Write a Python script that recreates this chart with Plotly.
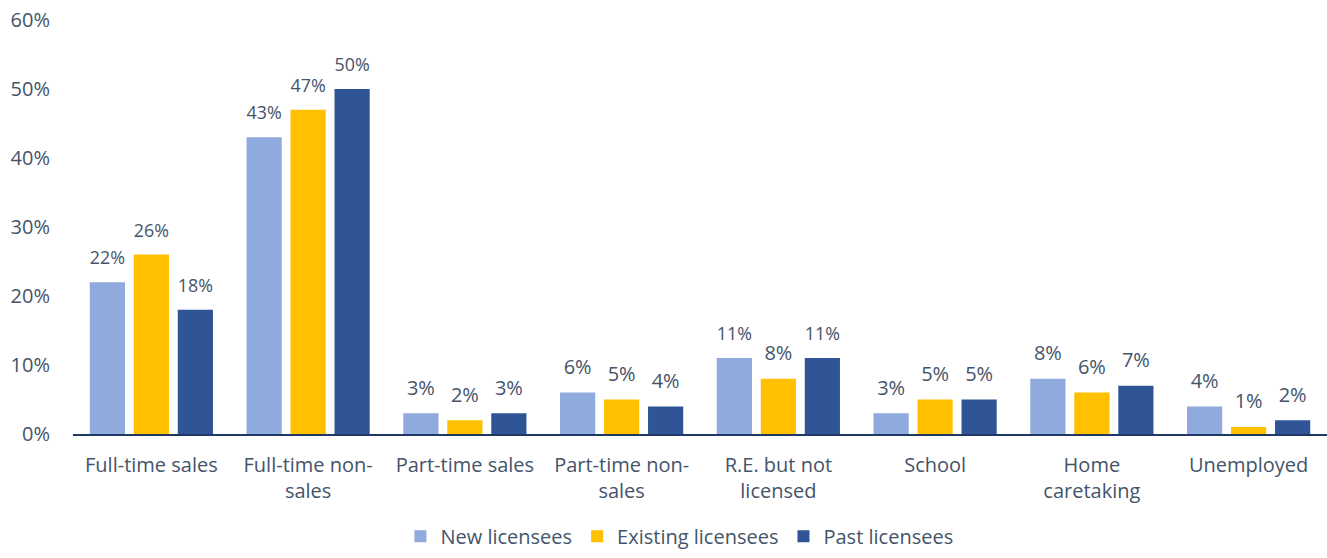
import plotly.graph_objects as go

categories = ["Full-time sales", "Full-time non-<br>sales", "Part-time sales", "Part-time non-<br>sales",
              "R.E. but not<br>licensed", "School", "Home<br>caretaking", "Unemployed"]
new_lic = [22, 43, 3, 6, 11, 3, 8, 4]
existing_lic = [26, 47, 2, 5, 8, 5, 6, 1]
past_lic = [18, 50, 3, 4, 11, 5, 7, 2]
series_names = ["New licensees", "Existing licensees", "Past licensees"]
colors = ["#8FAADC", "#FFC000", "#2F5597"]
y_ticks = [0, 10, 20, 30, 40, 50, 60]

FONT = "Open Sans"
FS = 20
TXT = "#44546A"
LABEL_PAD = 1.4  # extra space (in % units) between bar top and its value label

fig = go.Figure()
for i, (name, vals, col) in enumerate(zip(series_names, [new_lic, existing_lic, past_lic], colors)):
    fig.add_trace(go.Bar(
        x=categories, y=vals, name=name, marker_color=col,
        marker_line_width=0, offsetgroup=str(i),
    ))
    # transparent spacer carrying the value label slightly above the bar
    fig.add_trace(go.Bar(
        x=categories, y=[LABEL_PAD] * len(vals), base=vals, offsetgroup=str(i),
        marker_color="rgba(0,0,0,0)", marker_line_width=0, showlegend=False, hoverinfo="skip",
        text=[f"{v}%" for v in vals], textposition="outside",
        textfont=dict(family=FONT, size=FS, color=TXT), cliponaxis=False,
    ))

fig.update_layout(
    width=1327, height=558,
    margin=dict(l=73, r=0, t=20, b=124),
    plot_bgcolor="white", paper_bgcolor="white",
    barmode="group", bargap=0.158, bargroupgap=0.2,
    font=dict(family=FONT, size=FS, color=TXT),
    showlegend=True,
    legend=dict(orientation="h", xref="container", x=0.512, xanchor="center",
                yref="container", y=0.004, yanchor="bottom",
                font=dict(family=FONT, size=FS, color=TXT), itemwidth=30, tracegroupgap=0),
    xaxis=dict(showline=True, linecolor="#1F3864", linewidth=2, ticks="", showgrid=False,
               ticklabelstandoff=12, tickfont=dict(family=FONT, size=FS, color=TXT)),
    yaxis=dict(range=[0, 60], tickvals=y_ticks, ticktext=[f"{t}%" for t in y_ticks],
               showgrid=False, zeroline=False, showline=False, ticks="",
               ticklabelstandoff=22, tickfont=dict(family=FONT, size=FS, color=TXT)),
)

fig.write_html("out.html", config={"displayModeBar": False},
               post_script="document.body.style.margin='0';")
